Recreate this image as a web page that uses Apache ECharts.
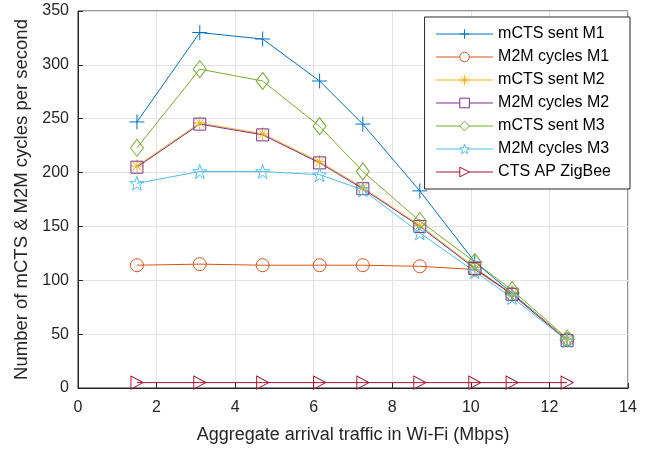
<!DOCTYPE html>
<html>
<head>
<meta charset="utf-8">
<script src="https://cdn.jsdelivr.net/npm/echarts@6/dist/echarts.min.js"></script>
<style>
  html, body { margin: 0; padding: 0; background: #fff; }
  #main { width: 662px; height: 449px; }
</style>
</head>
<body>
<div id="main"></div>
<script>
// arrival traffic (Mbps)
const traffic = [1.5, 3.1, 4.7, 6.15, 7.25, 8.7, 10.1, 11.05, 12.45];

const mctsSentM1 = [247, 330, 324, 285, 245, 183, 117, 88, 45];
const m2mCyclesM1 = [114, 115, 114, 114, 114, 113, 110, 87, 45];
const mctsSentM2 = [206, 246, 236, 210, 186, 151, 112, 87, 45];
const m2mCyclesM2 = [205, 245, 235, 209, 185, 150, 111, 87, 44];
const mctsSentM3 = [223, 296, 285, 243, 201, 155, 117, 91, 46];
const m2mCyclesM3 = [190, 201, 201, 198, 184, 144, 108, 84, 44];
const ctsApZigbee = [5, 5, 5, 5, 5, 5, 5, 5, 5];

const xTicks = [0, 2, 4, 6, 8, 10, 12, 14];
const yTicks = [0, 50, 100, 150, 200, 250, 300, 350];

// marker shapes (stroked only, like matlab)
const plusPath = 'path://M0,-10L0,10M-10,0L10,0';
const asteriskPath = 'path://M0,-10L0,10M-10,0L10,0M-7,-7L7,7M-7,7L7,-7';
const starPath = 'path://M0,-10L2.35,-3.24L9.51,-3.09L3.8,1.24L5.88,8.09L0,4L-5.88,8.09L-3.8,1.24L-9.51,-3.09L-2.35,-3.24Z';

function pairs(ys) {
  return traffic.map((x, i) => [x, ys[i]]);
}

function makeSeries(name, ys, color, symbol, size, rotate) {
  return {
    name: name,
    type: 'line',
    data: pairs(ys),
    color: color,
    symbol: symbol,
    symbolSize: size,
    symbolRotate: rotate || 0,
    showSymbol: true,
    showAllSymbol: true,
    animation: false,
    lineStyle: { color: color, width: 1 },
    itemStyle: { color: 'rgba(255,255,255,0)', borderColor: color, borderWidth: 1 },
    emphasis: { disabled: true }
  };
}

const chart = echarts.init(document.getElementById('main'), null, { renderer: 'canvas' });

const font = 'Liberation Sans, Arial, Helvetica, sans-serif';

chart.setOption({
  animation: false,
  textStyle: { fontFamily: font },
  grid: {
    left: 78, right: 34, top: 11, bottom: 61,
    show: true, borderColor: '#262626', borderWidth: 1, backgroundColor: 'transparent'
  },
  legend: {
    orient: 'vertical',
    right: 32,
    top: 17,
    padding: [8, 19, 8, 11],
    itemWidth: 57,
    itemHeight: 12,
    itemGap: 5,
    borderColor: '#262626',
    borderWidth: 1,
    backgroundColor: '#fff',
    lineStyle: { width: 1 },
    itemStyle: { color: 'rgba(255,255,255,1)', borderWidth: 1 },
    textStyle: { fontSize: 16, lineHeight: 18, color: '#000', fontFamily: font },
    data: ['mCTS sent M1', 'M2M cycles M1', 'mCTS sent M2', 'M2M cycles M2',
           'mCTS sent M3', 'M2M cycles M3', 'CTS AP ZigBee']
  },
  xAxis: {
    type: 'value',
    min: xTicks[0],
    max: xTicks[xTicks.length - 1],
    interval: 2,
    name: 'Aggregate arrival traffic in Wi-Fi (Mbps)',
    nameLocation: 'middle',
    nameGap: 38,
    nameTextStyle: { fontSize: 18, color: '#262626', fontFamily: font },
    axisLine: { show: true, onZero: false, lineStyle: { color: '#262626' } },
    axisTick: { show: true, inside: true, length: 5, lineStyle: { color: '#262626' } },
    axisLabel: { fontSize: 16, color: '#262626', margin: 12, fontFamily: font },
    splitLine: { show: true, lineStyle: { color: '#e3e3e3', width: 1 } }
  },
  yAxis: {
    type: 'value',
    min: yTicks[0],
    max: yTicks[yTicks.length - 1],
    interval: 50,
    name: 'Number of mCTS & M2M cycles per second',
    nameLocation: 'middle',
    nameGap: 45,
    nameTextStyle: { fontSize: 18.5, color: '#262626', fontFamily: font },
    axisLine: { show: true, onZero: false, lineStyle: { color: '#262626' } },
    axisTick: { show: true, inside: true, length: 5, lineStyle: { color: '#262626' } },
    axisLabel: { fontSize: 16, color: '#262626', margin: 9, fontFamily: font },
    splitLine: { show: true, lineStyle: { color: '#e3e3e3', width: 1 } }
  },
  series: [
    makeSeries('mCTS sent M1', mctsSentM1, '#0072BD', plusPath, 15),
    makeSeries('M2M cycles M1', m2mCyclesM1, '#D95319', 'circle', 13),
    makeSeries('mCTS sent M2', mctsSentM2, '#EDB120', asteriskPath, 13),
    makeSeries('M2M cycles M2', m2mCyclesM2, '#7E2F8E', 'rect', 12),
    makeSeries('mCTS sent M3', mctsSentM3, '#77AC30', 'diamond', [13, 17]),
    makeSeries('M2M cycles M3', m2mCyclesM3, '#4DBEEE', starPath, 14),
    makeSeries('CTS AP ZigBee', ctsApZigbee, '#A2142F', 'triangle', [13, 12], -90)
  ]
});
</script>
</body>
</html>
